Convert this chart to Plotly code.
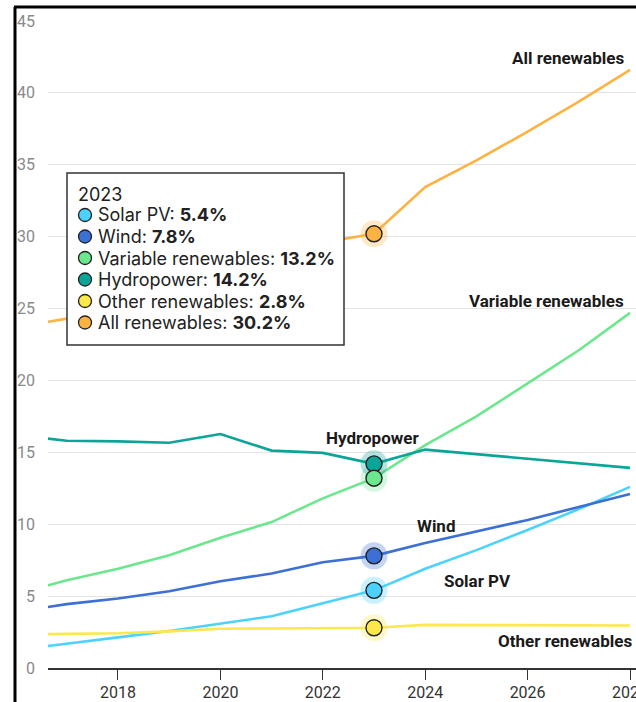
import plotly.graph_objects as go

years = list(range(2016, 2029))
solar = [1.25, 1.71, 2.13, 2.57, 3.10, 3.60, 4.50, 5.4, 6.9, 8.2, 9.6, 11.05, 12.6]
wind = [3.9, 4.44, 4.83, 5.34, 6.03, 6.57, 7.35, 7.8, 8.7, 9.5, 10.3, 11.2, 12.1]
variable = [5.15, 6.1, 6.91, 7.84, 9.06, 10.15, 11.8, 13.2, 15.5, 17.5, 19.8, 22.1, 24.7]
hydro = [16.2, 15.81, 15.76, 15.67, 16.27, 15.12, 14.96, 14.2, 15.19, 14.88, 14.56, 14.24, 13.92]
other = [2.33, 2.38, 2.42, 2.55, 2.73, 2.75, 2.76, 2.8, 3.0, 3.0, 3.0, 2.98, 2.96]
all_ren = [23.7, 24.3, 25.1, 26.1, 28.1, 28.0, 29.6, 30.2, 33.45, 35.3, 37.3, 39.4, 41.6]

names = ["Solar PV", "Wind", "Variable renewables", "Hydropower", "Other renewables", "All renewables"]
series = [solar, wind, variable, hydro, other, all_ren]
colors = ["#4cd2ff", "#3d70d4", "#6be88e", "#0aa597", "#fbe84a", "#fdb241"]
hl_year = 2023

W, H = 636, 702
ML, MT, MB = 48, 21, 34
PW = W - ML
PH = H - MT - MB

def px(x):
    return (x - ML) / PW

def py(y):
    return (H - MB - y) / PH

fig = go.Figure()

# lines
for n, s, c in zip(names, series, colors):
    fig.add_trace(go.Scatter(x=years, y=s, mode="lines", name=n,
                             line=dict(color=c, width=2.6), showlegend=False,
                             hoverinfo="skip"))

idx = years.index(hl_year)
# halos
for n, s, c in zip(names, series, colors):
    fig.add_trace(go.Scatter(x=[hl_year], y=[s[idx]], mode="markers",
                             marker=dict(size=27, color=c, opacity=0.3),
                             showlegend=False, hoverinfo="skip"))
# markers
order = [5, 4, 0, 1, 3, 2]
for i in order:
    fig.add_trace(go.Scatter(x=[hl_year], y=[series[i][idx]], mode="markers",
                             marker=dict(size=16, color=colors[i],
                                         line=dict(color="#222222", width=1.4)),
                             showlegend=False, hoverinfo="skip"))

annotations = []
lab_font = dict(family="Roboto", size=17, color="#1a1a1a")
labels = [
    ("All renewables", 2027.93, 42.4, "right"),
    ("Variable renewables", 2027.93, 25.5, "right"),
    ("Hydropower", 2022.98, 16.0, "center"),
    ("Wind", 2024.22, 9.87, "center"),
    ("Solar PV", 2025.03, 6.05, "center"),
    ("Other renewables", 2028.08, 1.88, "right"),
]
for t, x, y, xa in labels:
    annotations.append(dict(x=x, y=y, xref="x", yref="y", text="<b>%s</b>" % t,
                            showarrow=False, xanchor=xa, yanchor="middle",
                            font=lab_font))

shapes = []
# frame lines (black border)
shapes.append(dict(type="line", xref="paper", yref="paper",
                   x0=px(15), x1=px(15), y0=py(7), y1=py(H + 5),
                   line=dict(color="#000000", width=3)))
shapes.append(dict(type="line", xref="paper", yref="paper",
                   x0=px(14), x1=px(W + 5), y0=py(7), y1=py(7),
                   line=dict(color="#000000", width=3)))

# tooltip box
shapes.append(dict(type="rect", xref="paper", yref="paper", layer="above",
                   x0=px(67), x1=px(344), y0=py(345), y1=py(173),
                   fillcolor="#ffffff", line=dict(color="#333333", width=1.5)))

tip_font = dict(family="Inter", size=18, color="#222222")
annotations.append(dict(x=px(76), y=py(194), xref="paper", yref="paper",
                        text=str(hl_year), showarrow=False, xanchor="left",
                        yanchor="middle", font=tip_font))
row_y0, row_dy = 215, 21.5
for k, (n, s, c) in enumerate(zip(names, series, colors)):
    yy = row_y0 + k * row_dy
    shapes.append(dict(type="circle", xref="paper", yref="paper", layer="above",
                       xsizemode="pixel", ysizemode="pixel",
                       xanchor=px(85), yanchor=py(yy),
                       x0=-6.5, x1=6.5, y0=-6.5, y1=6.5,
                       fillcolor=c, line=dict(color="#222222", width=1.3)))
    annotations.append(dict(x=px(96), y=py(yy), xref="paper", yref="paper",
                            text="%s: <b>%.1f%%</b>" % (n, s[idx]),
                            showarrow=False, xanchor="left", yanchor="middle",
                            font=tip_font))

fig.update_layout(
    width=W, height=H,
    margin=dict(l=ML, r=0, t=MT, b=MB, autoexpand=False),
    paper_bgcolor="#ffffff", plot_bgcolor="#ffffff",
    font=dict(family="Roboto"),
    shapes=shapes, annotations=annotations,
    showlegend=False,
)
fig.update_xaxes(range=[2016.633, 2028.117], tickvals=[2018, 2020, 2022, 2024, 2026, 2028],
                 ticks="outside", ticklen=10, tickcolor="#333333", tickwidth=1.3,
                 showline=True, linecolor="#333333", linewidth=1.5,
                 showgrid=False, zeroline=False, automargin=False,
                 ticklabeloverflow="allow", ticklabelstandoff=-1,
                 tickfont=dict(family="Roboto", size=16, color="#333333"))
fig.update_yaxes(range=[0, 45], tickvals=[0, 5, 10, 15, 20, 25, 30, 35, 40, 45],
                 showgrid=True, gridcolor="#e4e4e4", gridwidth=1,
                 zeroline=False, showline=False, ticks="", automargin=False,
                 ticklabelstandoff=12,
                 tickfont=dict(family="Roboto", size=16, color="#8a8a8a"))

fig.write_html("out.html")
